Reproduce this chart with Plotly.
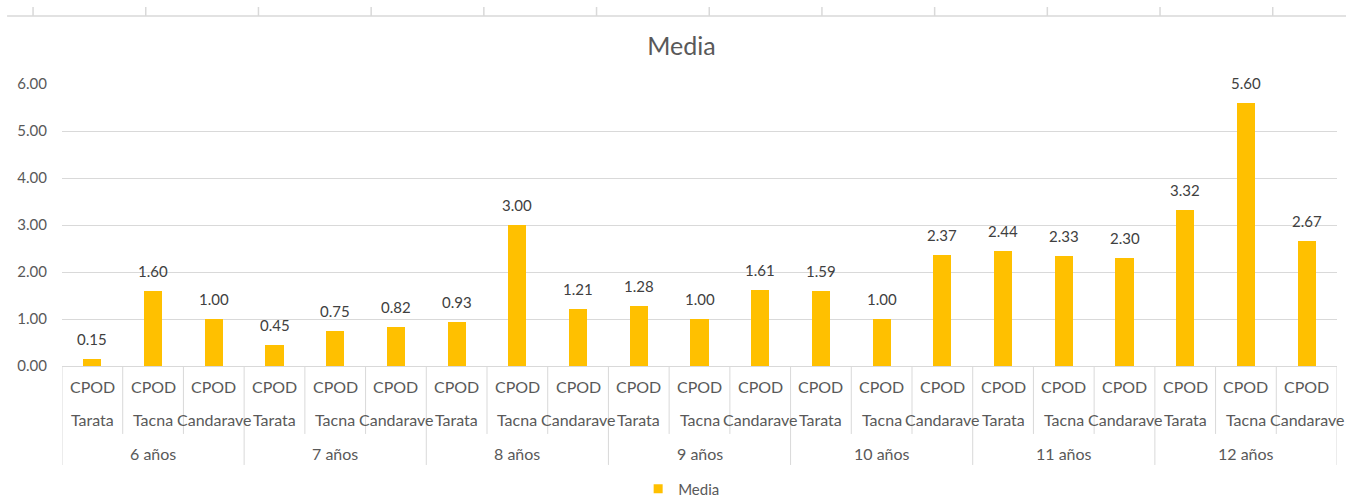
import plotly.graph_objects as go

# Mean CPOD by age group and locality
age_groups = ["6 años", "7 años", "8 años", "9 años", "10 años", "11 años", "12 años"]
localities = ["Tarata", "Tacna", "Candarave"]
index_label = "CPOD"
media = [0.15, 1.60, 1.00,
         0.45, 0.75, 0.82,
         0.93, 3.00, 1.21,
         1.28, 1.00, 1.61,
         1.59, 1.00, 2.37,
         2.44, 2.33, 2.30,
         3.32, 5.60, 2.67]
y_ticks = [0, 1, 2, 3, 4, 5, 6]

FONT = "Lato"
BAR = "#FFC000"
GRID = "#D9D9D9"
TXT = "#595959"

n = len(media)
xpos = [i + 0.5 for i in range(n)]

fig = go.Figure()
fig.add_trace(go.Bar(
    x=xpos, y=media, name="Media", width=0.3,
    marker=dict(color=BAR, line=dict(width=0)),
    showlegend=False,
))
# legend entry with a small square swatch
fig.add_trace(go.Scatter(
    x=[None], y=[None], name="Media", mode="markers",
    marker=dict(symbol="square", size=9, color=BAR),
    showlegend=True,
))

annotations = []
# value labels above the bars
for x, v in zip(xpos, media):
    annotations.append(dict(
        x=x, y=v, xref="x", yref="y", text=f"{v:.2f}", showarrow=False,
        yanchor="bottom", yshift=9, font=dict(family=FONT, size=15, color="#404040"),
    ))

# three-level category axis: index / locality / age group
for i, x in enumerate(xpos):
    annotations.append(dict(
        x=x, y=-0.074, xref="x", yref="paper", text=index_label, showarrow=False,
        yanchor="middle", font=dict(family=FONT, size=16, color=TXT),
    ))
    annotations.append(dict(
        x=x, y=-0.189, xref="x", yref="paper", text=localities[i % len(localities)],
        showarrow=False, yanchor="middle", font=dict(family=FONT, size=16, color=TXT),
    ))
for g, name in enumerate(age_groups):
    annotations.append(dict(
        x=g * len(localities) + len(localities) / 2, y=-0.309, xref="x", yref="paper",
        text=name, showarrow=False, yanchor="middle",
        font=dict(family=FONT, size=16, color=TXT),
    ))

shapes = []
# category separators below the axis
for k in range(n + 1):
    long_line = k % len(localities) == 0
    shapes.append(dict(
        type="line", xref="x", yref="paper", x0=k, x1=k, y0=0,
        y1=-0.351 if long_line else -0.241,
        line=dict(color=GRID, width=1),
    ))

# axis strip along the top edge of the canvas
shapes.append(dict(type="line", xref="paper", yref="paper",
                   x0=-0.0431, x1=1.008, y0=1.241, y1=1.241,
                   line=dict(color=GRID, width=1.5)))
for k in range(12):
    xp = -0.0227 + k * 0.08839
    shapes.append(dict(type="line", xref="paper", yref="paper",
                       x0=xp, x1=xp, y0=1.241, y1=1.273,
                       line=dict(color=GRID, width=1.5)))

fig.update_layout(
    width=1346, height=497,
    margin=dict(l=62, r=9, t=84, b=131, autoexpand=False),
    paper_bgcolor="white", plot_bgcolor="white",
    title=dict(text="Media", x=0.5063, xref="container", xanchor="center",
               y=0.906, yref="container", yanchor="middle",
               font=dict(family=FONT, size=25, color=TXT)),
    xaxis=dict(range=[0, n], showticklabels=False, showgrid=False, zeroline=False,
               showline=True, linecolor=GRID, linewidth=1, ticks="", fixedrange=True),
    yaxis=dict(range=[0, 6], tickvals=y_ticks, tickformat=".2f", showgrid=True,
               gridcolor=GRID, gridwidth=1, zeroline=False, showline=False,
               ticklabelstandoff=14,
               tickfont=dict(family=FONT, size=15, color=TXT)),
    legend=dict(orientation="h", x=0.486, xanchor="center", y=-0.436, yanchor="middle",
                font=dict(family=FONT, size=15, color=TXT), itemwidth=30),
    annotations=annotations,
    shapes=shapes,
    bargap=0,
)

fig.write_html("out.html")
